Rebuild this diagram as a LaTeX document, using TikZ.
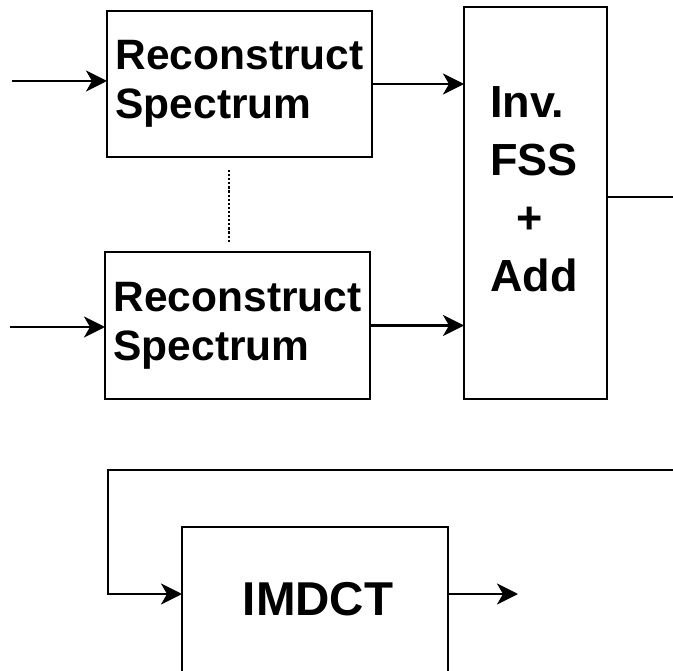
\documentclass[tikz,border=0pt]{standalone}
\usepackage{fontspec}
\setmainfont{Liberation Sans}
\usetikzlibrary{arrows.meta}
\begin{document}
\begin{tikzpicture}[x=1pt,y=-1pt,
  blk/.style={draw, line width=2.4pt, inner sep=0pt, outer sep=0pt},
  lbl/.style={inner sep=0pt, outer sep=0pt},
  conn/.style={line width=2.4pt},
  arr/.style={line width=2.4pt, -{Stealth[length=21pt,width=21pt,inset=6pt]}},
  dotline/.style={line width=2.6pt, dash pattern=on 2.2pt off 1.9pt}
]
\useasboundingbox (0,0) rectangle (673,671);
% boxes
\node[blk, minimum width=265pt, minimum height=146pt, align=left,
      font=\fontsize{42.5}{49}\selectfont\bfseries] (rs1) at (239.5,84)
      {Reconstruct\\Spectrum};
\node[blk, minimum width=265pt, minimum height=147pt, align=left,
      font=\fontsize{42.5}{49}\selectfont\bfseries] (rs2) at (237.5,325.5)
      {Reconstruct\\Spectrum};
\node[blk, minimum width=143pt, minimum height=392pt] (inv) at (535.5,203) {};
\node[lbl, align=left, font=\fontsize{45}{58}\selectfont\bfseries] (invtxt) at (534,189)
      {Inv.\\FSS\\\hspace*{26pt}+\\Add};
\node[blk, minimum width=266pt, minimum height=170pt, anchor=north] (imdct) at (315,527) {};
\node[lbl, font=\fontsize{47.5}{56}\selectfont\bfseries] (imdcttxt) at (318,599.5) {IMDCT};
% coordinates for free ends
\coordinate (in1) at (12,81);
\coordinate (in2) at (10,327);
\coordinate (dtop) at (229,170);
\coordinate (dbot) at (229,243);
\coordinate (out) at (675,197);
\coordinate (fbR) at (675,470);
\coordinate (fbC) at (108,594);
\coordinate (o2) at (518,594);
% connectors
\draw[arr] (in1) -- (in1 -| rs1.west);
\draw[arr] (in2) -- (in2 -| rs2.west);
\draw[arr] (rs1.east) -- (rs1.east -| inv.west);
\draw[arr] (rs2.east) -- (rs2.east -| inv.west);
\draw[dotline] (dtop) -- (dbot);
\draw[conn] (out -| inv.east) -- (out);
\draw[arr] (fbR) -| (fbC) -- (fbC -| imdct.west);
\draw[arr] (o2 -| imdct.east) -- (o2);
\end{tikzpicture}
\end{document}
